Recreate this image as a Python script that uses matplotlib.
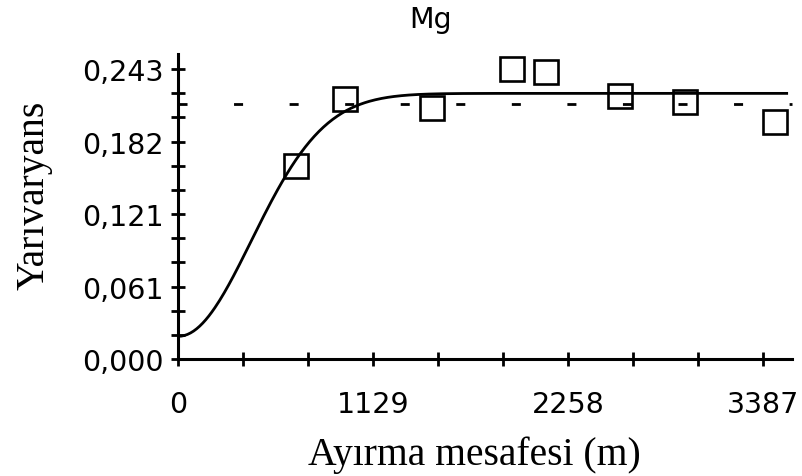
import numpy as np
import matplotlib
matplotlib.use('Agg')
from matplotlib import pyplot as plt
from matplotlib.ticker import MultipleLocator

# deneysel yarıvaryans noktaları (Mg)
lag = [681, 965, 1469, 1932, 2129, 2559, 2934, 3455]
gamma = [0.162, 0.218, 0.2107, 0.2427, 0.2402, 0.2205, 0.2155, 0.1982]

# gaussian model parametreleri
nugget = 0.019
sill = 0.2226
a0 = 598.0
model_end = 3530
var_line = 0.2134   # örnek varyansı (kesikli çizgi)

x_ticks = [0, 1129, 2258, 3387]
y_step = 0.243 / 4
y_labels = ['0,000', '0,061', '0,121', '0,182', '0,243']
x_max = 3551
y_max = 0.2556

plt.rcParams['lines.scale_dashes'] = False

fig = plt.figure(figsize=(8.03, 4.77), dpi=100)
ax = fig.add_axes([178.3 / 803, 1 - 360 / 477, (791.7 - 178.3) / 803, (360 - 55) / 477])

# model eğrisi
h = np.linspace(0, model_end, 400)
g = nugget + (sill - nugget) * (1 - np.exp(-(h / a0) ** 2))
ax.plot(h, g, color='black', lw=2.0, solid_capstyle='butt')
# varyans çizgisi
ax.plot([0, x_max], [var_line, var_line], color='black', lw=2.0,
        dashes=(6.5, 33.5), dash_capstyle='butt', clip_on=False)
# noktalar
ax.plot(lag, gamma, linestyle='none', marker='s', markersize=17.5,
        markerfacecolor='none', markeredgecolor='black', markeredgewidth=1.9)

ax.set_xlim(0, x_max)
ax.set_ylim(0, y_max)
for s in ['top', 'right']:
    ax.spines[s].set_visible(False)
for s in ['left', 'bottom']:
    ax.spines[s].set_linewidth(2.2)

ax.set_xticks(x_ticks)
ax.set_xticklabels([str(v) for v in x_ticks])
ax.xaxis.set_minor_locator(MultipleLocator(x_ticks[1] / 3))
ax.set_yticks([y_step * i for i in range(len(y_labels))])
ax.set_yticklabels(y_labels)
ax.yaxis.set_minor_locator(MultipleLocator(y_step / 3))

ax.tick_params(which='both', direction='inout', length=10, width=2.0, color='black')
ax.tick_params(axis='y', which='major', pad=5.8, labelsize=20.5)
ax.tick_params(axis='x', which='major', pad=17.5, labelsize=20.5)

fig.text(430.5 / 803, 1 - 28 / 477, 'Mg', ha='center', va='baseline', fontsize=20.5,
         family='DejaVu Sans')
fig.text(474 / 803, (477 - 465) / 477, 'Ayırma mesafesi (m)', ha='center', va='baseline',
         fontsize=28.5, family='Liberation Serif')
fig.text(34 / 803, 1 - 195.5 / 477, 'Yarıvaryans', rotation=90, ha='center', va='center',
         fontsize=28.5, family='Liberation Serif')

fig.savefig('out.png', dpi=100)
